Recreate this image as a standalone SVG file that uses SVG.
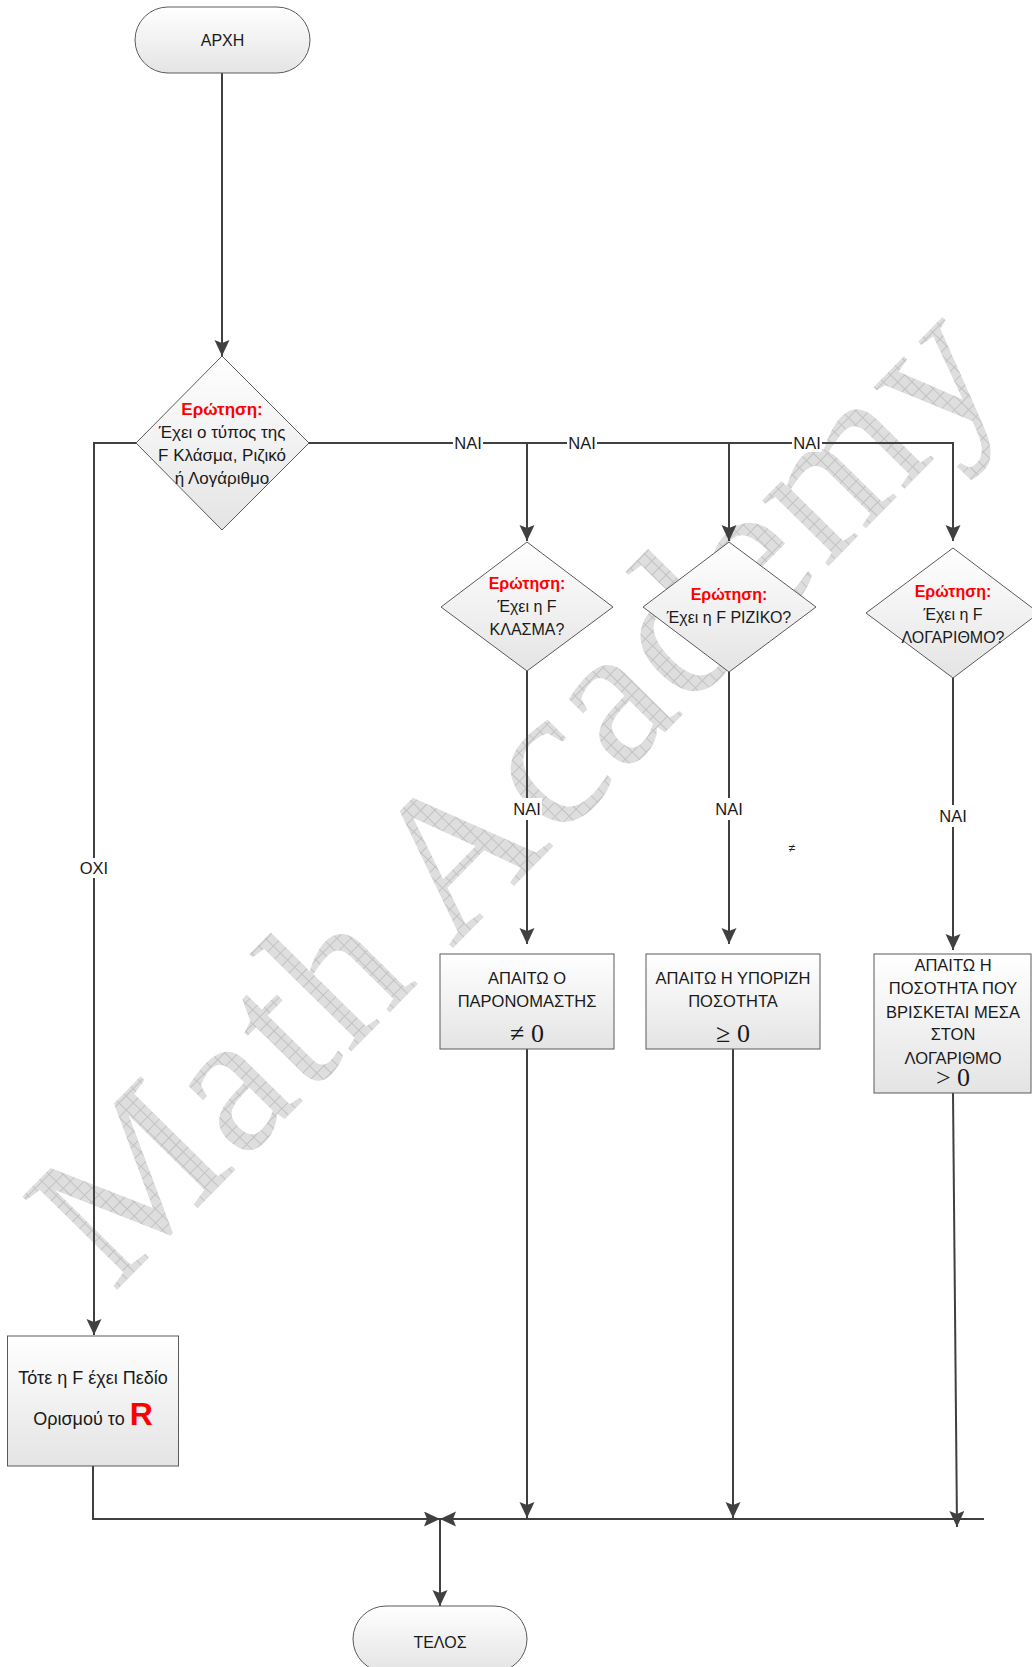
<svg xmlns="http://www.w3.org/2000/svg" width="1032" height="1667" viewBox="0 0 1032 1667">
<defs>
<linearGradient id="g" x1="0" y1="0" x2="0" y2="1">
<stop offset="0" stop-color="#ffffff"/>
<stop offset="1" stop-color="#e4e4e4"/>
</linearGradient>
<pattern id="hatch" width="10" height="10" patternUnits="userSpaceOnUse">
<rect width="10" height="10" fill="#dedede"/>
<path d="M0,0.5 H10 M0.5,0 V10" stroke="#c2c2c2" stroke-width="1"/>
</pattern>
<marker id="ah" markerUnits="userSpaceOnUse" markerWidth="18" markerHeight="16" refX="16" refY="7.5" orient="auto">
<path d="M0,0 L16,7.5 L0,15 L3,7.5 z" fill="#404040"/>
</marker>
<style>
.shape{fill:url(#g);stroke:#5a5a5a;stroke-width:1}
.t{font-family:"Liberation Sans",Arial,sans-serif;font-size:16px;fill:#1a1a1a;text-anchor:middle}
.b{font-size:16.5px}
.d{font-size:17px}
.lb{font-size:16.5px}
.q{font-weight:bold;fill:#ff0000}
.m{font-family:"Liberation Serif","Times New Roman",serif;font-size:26px;fill:#1a1a1a;text-anchor:middle}
.conn{fill:none;stroke:#404040;stroke-width:2}
.bg{fill:#ffffff}
.wm{font-family:"Liberation Serif","Times New Roman",serif;font-size:203px;letter-spacing:3px;fill:url(#hatch)}
</style>
</defs>

<g id="watermark">
<text class="wm" transform="translate(113,1294) rotate(-45.5)">Math Academy</text>
</g>

<g id="connectors">
<path class="conn" d="M222,73 V356" marker-end="url(#ah)"/>
<path class="conn" d="M309,443 H953 V541" marker-end="url(#ah)"/>
<path class="conn" d="M527,443 V541" marker-end="url(#ah)"/>
<path class="conn" d="M729,443 V541" marker-end="url(#ah)"/>
<path class="conn" d="M136,443 H94 V1335" marker-end="url(#ah)"/>
<path class="conn" d="M527,671 V944" marker-end="url(#ah)"/>
<path class="conn" d="M729,672 V944" marker-end="url(#ah)"/>
<path class="conn" d="M953,678 V950" marker-end="url(#ah)"/>
<path class="conn" d="M527,1049 V1518" marker-end="url(#ah)"/>
<path class="conn" d="M733,1049 V1518" marker-end="url(#ah)"/>
<path class="conn" d="M953,1093 L957,1527" marker-end="url(#ah)"/>
<path class="conn" d="M93,1466 V1519 H440" marker-end="url(#ah)"/>
<path class="conn" d="M984,1519 H440" marker-end="url(#ah)"/>
<path class="conn" d="M440,1519 V1606" marker-end="url(#ah)"/>
<rect class="bg" x="453" y="434" width="30" height="18"/>
<text class="t lb" x="468" y="449">ΝΑΙ</text>
<rect class="bg" x="567" y="434" width="30" height="18"/>
<text class="t lb" x="582" y="449">ΝΑΙ</text>
<rect class="bg" x="792" y="434" width="30" height="18"/>
<text class="t lb" x="807" y="449">ΝΑΙ</text>
<rect class="bg" x="79" y="858" width="30" height="20"/>
<text class="t lb" x="94" y="874">ΟΧΙ</text>
<rect class="bg" x="512" y="798" width="30" height="22"/>
<text class="t lb" x="527" y="815">ΝΑΙ</text>
<rect class="bg" x="714" y="798" width="30" height="22"/>
<text class="t lb" x="729" y="815">ΝΑΙ</text>
<rect class="bg" x="938" y="805" width="30" height="22"/>
<text class="t lb" x="953" y="822">ΝΑΙ</text>
<text class="t" x="792" y="852" style="font-size:12px">≠</text>
</g>

<g id="start">
<rect class="shape" x="135" y="7" width="175" height="66" rx="33" ry="33"/>
<text class="t" x="222.5" y="46">ΑΡΧΗ</text>
</g>

<g id="q-main">
<polygon class="shape" points="222,356 309,443 222,530 136,443"/>
<text class="t d q" x="222" y="415">Ερώτηση:</text>
<text class="t d" x="222" y="438">Έχει ο τύπος της</text>
<text class="t d" x="222" y="461">F Κλάσμα, Ριζικό</text>
<text class="t d" x="222" y="484">ή Λογάριθμο</text>
</g>

<g id="q-klasma">
<polygon class="shape" points="527,542 613,607 527,671 441,607"/>
<text class="t q" x="527" y="589">Ερώτηση:</text>
<text class="t" x="527" y="612">Έχει η F</text>
<text class="t" x="527" y="635">ΚΛΑΣΜΑ?</text>
</g>

<g id="q-riziko">
<polygon class="shape" points="729,542 816,607 729,672 643,607"/>
<text class="t q" x="729" y="600">Ερώτηση:</text>
<text class="t" x="729" y="623">Έχει η F ΡΙΖΙΚΟ?</text>
</g>

<g id="q-log">
<polygon class="shape" points="953,548 1039,613 953,678 866,613"/>
<text class="t q" x="953" y="597">Ερώτηση:</text>
<text class="t" x="953" y="620">Έχει η F</text>
<text class="t" x="953" y="643">ΛΟΓΑΡΙΘΜΟ?</text>
</g>

<g id="box-klasma">
<rect class="shape" x="440" y="954" width="174" height="95"/>
<text class="t b" x="527" y="984">ΑΠΑΙΤΩ Ο</text>
<text class="t b" x="527" y="1007">ΠΑΡΟΝΟΜΑΣΤΗΣ</text>
<text class="m" x="527" y="1042">≠ 0</text>
</g>

<g id="box-riziko">
<rect class="shape" x="646" y="954" width="174" height="95"/>
<text class="t b" x="733" y="984">ΑΠΑΙΤΩ Η ΥΠΟΡΙΖΗ</text>
<text class="t b" x="733" y="1007">ΠΟΣΟΤΗΤΑ</text>
<text class="m" x="733" y="1042">≥ 0</text>
</g>

<g id="box-log">
<rect class="shape" x="874" y="954" width="157" height="139"/>
<text class="t b" x="953" y="971">ΑΠΑΙΤΩ Η</text>
<text class="t b" x="953" y="994">ΠΟΣΟΤΗΤΑ ΠΟΥ</text>
<text class="t b" x="953" y="1018">ΒΡΙΣΚΕΤΑΙ ΜΕΣΑ</text>
<text class="t b" x="953" y="1040">ΣΤΟΝ</text>
<text class="t b" x="953" y="1064">ΛΟΓΑΡΙΘΜΟ</text>
<text class="m" x="953" y="1086">&gt; 0</text>
</g>

<g id="box-R">
<rect class="shape" x="7.5" y="1336" width="171" height="130"/>
<text class="t" x="93" y="1384" style="font-size:18px">Τότε η F έχει Πεδίο</text>
<text class="t" x="93" y="1425" style="font-size:18px"><tspan>Ορισμού το </tspan><tspan style="font-size:32px;font-weight:bold;fill:#ff0000">R</tspan></text>
</g>

<g id="end">
<rect class="shape" x="353" y="1606" width="174" height="66" rx="33" ry="33"/>
<text class="t" x="440" y="1648">ΤΕΛΟΣ</text>
</g>
</svg>
